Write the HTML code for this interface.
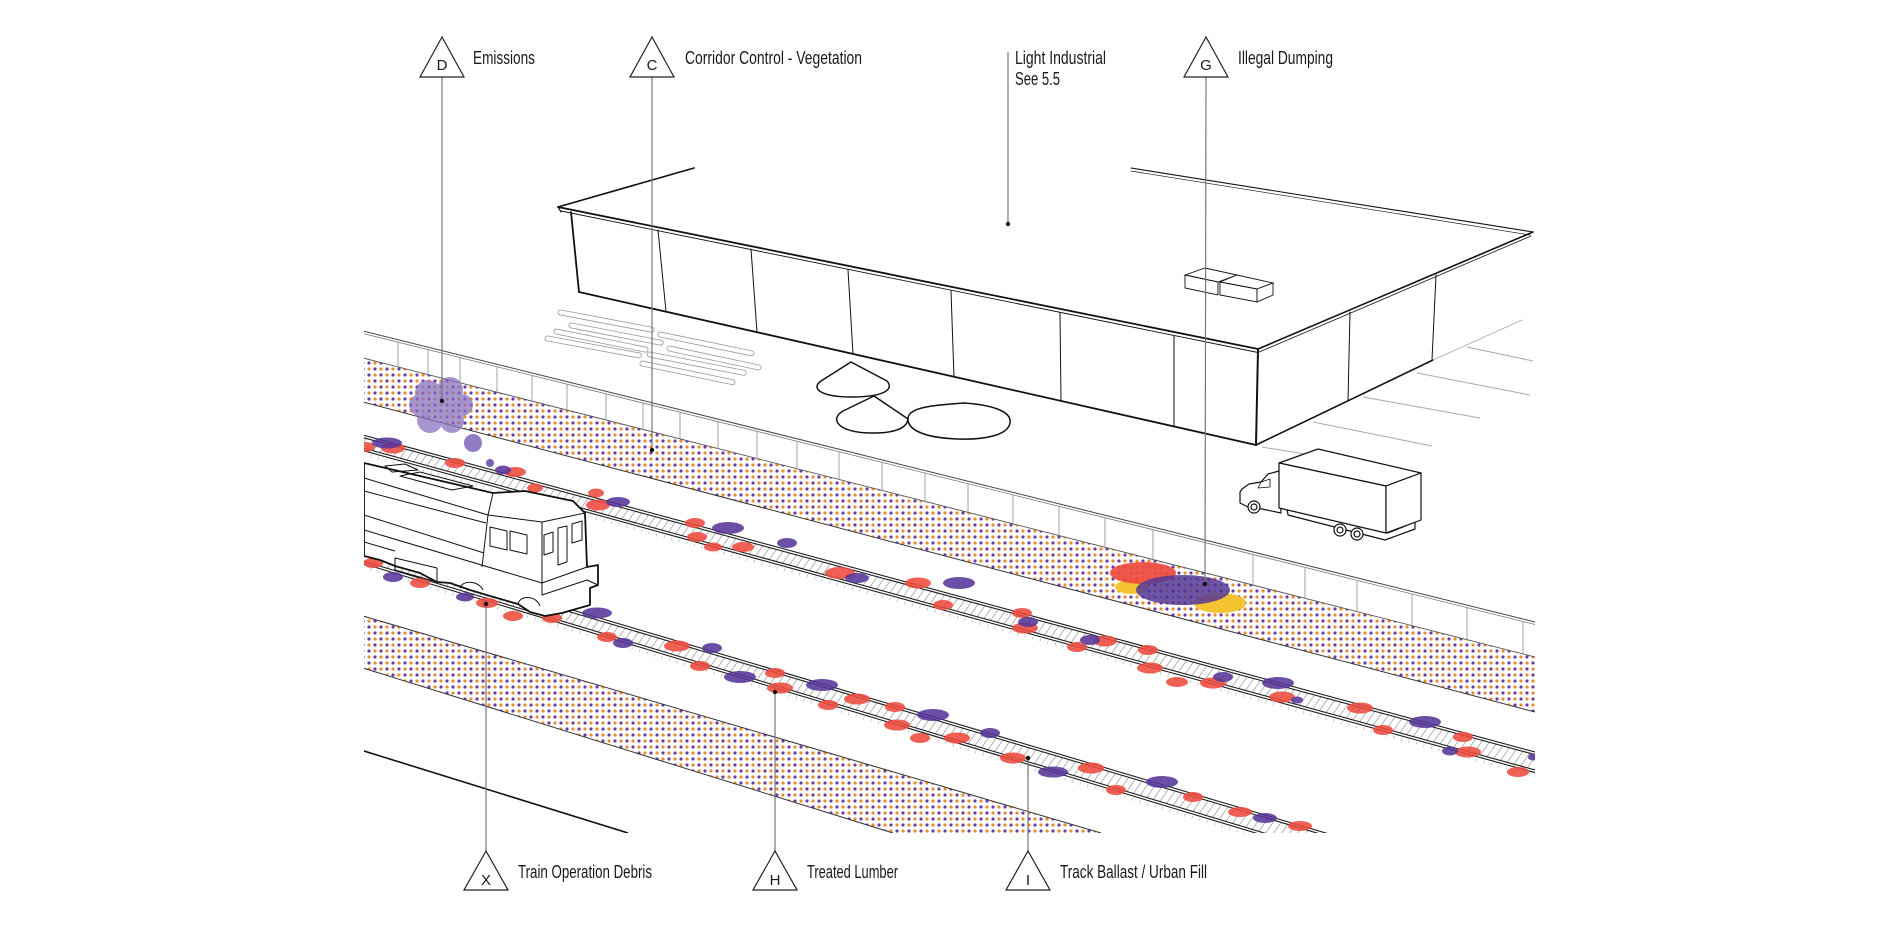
<!DOCTYPE html>
<html><head><meta charset="utf-8"><style>
html,body{margin:0;padding:0;background:#fff;}
svg{display:block;}
text{font-family:"Liberation Sans Narrow","Liberation Sans",sans-serif;fill:#1a1a1a;}
</style></head><body>
<svg width="1900" height="927" viewBox="0 0 1900 927" xmlns="http://www.w3.org/2000/svg">
<defs>
<pattern id="dots" patternUnits="userSpaceOnUse" width="12" height="12">
<circle cx="3" cy="3" r="1.6" fill="#f08c2a"/><circle cx="9" cy="9" r="1.6" fill="#f08c2a"/>
<circle cx="9" cy="3" r="1.6" fill="#6a3d9e"/><circle cx="3" cy="9" r="1.6" fill="#6a3d9e"/>
</pattern>
<pattern id="ties" patternUnits="userSpaceOnUse" width="8" height="40" patternTransform="skewX(-35)">
<line x1="1" y1="0" x2="1" y2="40" stroke="#9a9a9a" stroke-width="0.9"/>
</pattern>
<clipPath id="clip"><rect x="364" y="0" width="1171" height="833"/></clipPath>
</defs>
<rect width="1900" height="927" fill="#fff"/>

<g fill="none" stroke="#111" stroke-linecap="round">
<line x1="558" y1="207" x2="694" y2="168" stroke-width="1.6"/>
<line x1="1131" y1="168" x2="1533" y2="232" stroke-width="1.1"/>
<line x1="1131" y1="171" x2="1530" y2="235" stroke-width="0.7"/>
<line x1="558" y1="207" x2="1258" y2="349" stroke-width="1.8"/>
<line x1="561" y1="211" x2="1258" y2="352.5" stroke-width="0.9"/>
<line x1="1258" y1="349" x2="1533" y2="232" stroke-width="1.6"/>
<line x1="1258" y1="352.5" x2="1531" y2="236" stroke-width="0.8"/>
<line x1="558" y1="207" x2="561" y2="212" stroke-width="1.2"/>
<line x1="571" y1="212" x2="579" y2="292" stroke-width="1.8"/>
<line x1="579" y1="292" x2="1256" y2="445" stroke-width="1.8"/>
<line x1="1258" y1="350" x2="1256" y2="445" stroke-width="2"/>
<line x1="1256" y1="445" x2="1433" y2="360" stroke-width="1.6"/>
<line x1="1433" y1="360" x2="1522" y2="320" stroke="#aaa" stroke-width="0.9"/>
<path stroke-width="1" d="M658,230L666,311.5M751,249L757,332M848,270L853,354M951,291L954,377M1060,313L1061,401M1174,336L1174,426.5M1350,312L1348,401M1436,275L1432,360"/>
<g stroke-width="0.9" fill="#fff">
<polygon points="1185,275 1205,268 1237,275 1218,282"/>
<polygon points="1185,275 1218,282 1218,295 1185,288"/>
<polygon points="1220,282 1237,275 1273,283 1257,289"/>
<polygon points="1220,282 1257,289 1257,302 1220,295"/>
<polygon points="1257,289 1273,283 1273,295 1257,302"/>
</g>
</g>

<path stroke="#aaa" stroke-width="1" fill="none" d="M1467,347L1533,361M1417,373L1530,395M1363,397L1480,418M1313,422L1432,446M1262,447L1305,454"/>

<g stroke="#999" stroke-width="0.8" fill="#fff">
<rect x="0" y="-2.5" width="98" height="5" rx="2.5" transform="translate(558,312) rotate(10.7)"/>
<rect x="0" y="-2.5" width="96" height="5" rx="2.5" transform="translate(569,325) rotate(10.9)"/>
<rect x="0" y="-2.5" width="96" height="5" rx="2.5" transform="translate(554,331) rotate(11.5)"/>
<rect x="0" y="-2.5" width="98" height="5" rx="2.5" transform="translate(545,338) rotate(10.5)"/>
<rect x="0" y="-2.5" width="98" height="5" rx="2.5" transform="translate(658,334) rotate(11.7)"/>
<rect x="0" y="-2.5" width="96" height="5" rx="2.5" transform="translate(667,348) rotate(12)"/>
<rect x="0" y="-2.5" width="101" height="5" rx="2.5" transform="translate(647,354) rotate(11)"/>
<rect x="0" y="-2.5" width="97" height="5" rx="2.5" transform="translate(640,363) rotate(11.7)"/>
</g>

<g fill="none" stroke="#111" stroke-width="1.5" stroke-linejoin="round">
<path d="M851,362 L821,381 C810,389 822,397 852,397 C882,397 895,390 887,381 Z"/>
<path d="M874,396 L843,411 C829,419 838,433 872,433 C896,433 907,428 908,419 Z"/>
<path d="M908,418 C909,407 935,405 964,403 C994,405 1012,412 1010,423 C1008,435 985,440 958,439 C930,438 907,432 908,418 Z"/>
</g>

<g stroke="#111" stroke-width="1.2" fill="#fff" stroke-linejoin="round">
<polygon points="1287,508 1288,515 1385,540 1415,529 1415,522 1388,533"/>
<path d="M1279,471 L1268,474 L1261,482 L1249,484 L1242,489 L1240,492 L1240,503 L1248,507 L1262,509 L1281,513 Z"/>
<path d="M1261,482 L1270,479 L1270,487 L1258,488 Z" stroke-width="0.8"/>
<polygon points="1279,463 1318,449 1421,473 1386,486"/>
<polygon points="1279,463 1386,486 1386,533 1279,508"/>
<polygon points="1386,486 1421,473 1421,520 1386,533"/>
<circle cx="1254" cy="507" r="6"/><circle cx="1254" cy="507" r="3"/>
<circle cx="1340" cy="530" r="6"/><circle cx="1340" cy="530" r="3"/>
<circle cx="1357" cy="534" r="6"/><circle cx="1357" cy="534" r="3"/>
</g>

<g clip-path="url(#clip)">
<polygon points="363,358 1535,657 1535,712 363,402" fill="url(#dots)"/>
<line x1="363" y1="358" x2="1535" y2="657" stroke="#555" stroke-width="0.9"/>
<line x1="363" y1="402" x2="1535" y2="712" stroke="#333" stroke-width="1"/>
<line x1="363" y1="331" x2="1535" y2="622" stroke="#444" stroke-width="1"/>
<line x1="363" y1="333.5" x2="1535" y2="624.5" stroke="#777" stroke-width="0.8"/>
<path stroke="#999" stroke-width="0.9" d="M398,342V367M428,350V374.6M460,358V382.7M497,367V392M532,376V401M567,384.5V410M606,394V420M643,403.5V429.4M680,412.7V438.9M718,422V448.6M757,432V458.5M797,442V468.7M839,452V479.4M882,463V490.4M925,473.5V501.4M968,484V512.3M1013,495V523.8M1059,507V535.5M1105,518V547.3M1153,530V559.5M1253,555V585M1305,568V598.3M1357,581V611.6M1412,594.5V625.6M1467,608V639.6M1523,622V653.9"/>
<polygon points="363,616 1101,833 893,833 363,668" fill="url(#dots)"/>
<line x1="363" y1="616" x2="1101" y2="833" stroke="#333" stroke-width="1"/>
<line x1="363" y1="668" x2="893" y2="833" stroke="#333" stroke-width="1"/>
<line x1="364" y1="751" x2="628" y2="833" stroke="#111" stroke-width="1.6"/>

<polygon points="363,438 1535,755 1535,770 363,448" fill="url(#ties)"/>
<path stroke="#1e1e1e" stroke-width="1.1" d="M363,435L1535,752M363,437.6L1535,754.6M363,448L1535,770M363,450.6L1535,772.6"/>
<line x1="363" y1="454" x2="1535" y2="776" stroke="#bbb" stroke-width="3" stroke-dasharray="0.8 7"/>
<polygon points="363,551 1400,858 1400,874 363,561" fill="url(#ties)"/>
<path stroke="#1e1e1e" stroke-width="1.1" d="M363,548L1400,855M363,550.6L1400,857.6M363,561L1400,874M363,563.6L1400,876.6"/>
<line x1="363" y1="567" x2="1400" y2="880" stroke="#bbb" stroke-width="3" stroke-dasharray="0.8 7"/>

<g fill="#ee4a3c" fill-opacity="0.88">
<ellipse cx="365" cy="447" rx="10" ry="5"/>
<ellipse cx="393" cy="448" rx="12" ry="5.5"/>
<ellipse cx="455" cy="463" rx="10" ry="5"/>
<ellipse cx="515" cy="472" rx="11" ry="5"/>
<ellipse cx="535" cy="488" rx="8" ry="4.5"/>
<ellipse cx="596" cy="493" rx="8" ry="4.5"/>
<ellipse cx="598" cy="505" rx="12" ry="5.5"/>
<ellipse cx="695" cy="523" rx="10" ry="5"/>
<ellipse cx="697" cy="537" rx="10" ry="5"/>
<ellipse cx="713" cy="547" rx="9" ry="4.5"/>
<ellipse cx="743" cy="547" rx="11" ry="5"/>
<ellipse cx="840" cy="573" rx="15" ry="6"/>
<ellipse cx="918" cy="583" rx="13" ry="5.5"/>
<ellipse cx="943" cy="605" rx="10" ry="5"/>
<ellipse cx="1022" cy="613" rx="10" ry="5"/>
<ellipse cx="1025" cy="628" rx="13" ry="5.5"/>
<ellipse cx="1077" cy="647" rx="10" ry="5"/>
<ellipse cx="1105" cy="641" rx="12" ry="5.5"/>
<ellipse cx="1148" cy="650" rx="10" ry="5"/>
<ellipse cx="1150" cy="668" rx="13" ry="5.5"/>
<ellipse cx="1177" cy="682" rx="11" ry="5"/>
<ellipse cx="1213" cy="683" rx="13" ry="5.5"/>
<ellipse cx="1282" cy="697" rx="13" ry="5.5"/>
<ellipse cx="1360" cy="708" rx="13" ry="5.5"/>
<ellipse cx="1383" cy="730" rx="10" ry="5"/>
<ellipse cx="1463" cy="737" rx="10" ry="5"/>
<ellipse cx="1468" cy="752" rx="13" ry="5.5"/>
<ellipse cx="1518" cy="772" rx="11" ry="5"/>
<ellipse cx="373" cy="563" rx="10" ry="5"/>
<ellipse cx="420" cy="583" rx="10" ry="5"/>
<ellipse cx="453" cy="579" rx="9" ry="4.5"/>
<ellipse cx="487" cy="603" rx="11" ry="5"/>
<ellipse cx="513" cy="616" rx="10" ry="5"/>
<ellipse cx="552" cy="618" rx="10" ry="5"/>
<ellipse cx="607" cy="637" rx="10" ry="5"/>
<ellipse cx="677" cy="646" rx="13" ry="5.5"/>
<ellipse cx="700" cy="666" rx="10" ry="5"/>
<ellipse cx="775" cy="673" rx="10" ry="5"/>
<ellipse cx="780" cy="688" rx="13" ry="5.5"/>
<ellipse cx="828" cy="705" rx="10" ry="5"/>
<ellipse cx="857" cy="699" rx="13" ry="5.5"/>
<ellipse cx="895" cy="707" rx="10" ry="5"/>
<ellipse cx="897" cy="725" rx="13" ry="5.5"/>
<ellipse cx="920" cy="738" rx="10" ry="5"/>
<ellipse cx="957" cy="738" rx="13" ry="5.5"/>
<ellipse cx="1013" cy="758" rx="13" ry="5.5"/>
<ellipse cx="1091" cy="768" rx="13" ry="5.5"/>
<ellipse cx="1116" cy="790" rx="10" ry="5"/>
<ellipse cx="1193" cy="797" rx="10" ry="5"/>
<ellipse cx="1240" cy="812" rx="12" ry="5"/>
<ellipse cx="1300" cy="826" rx="12" ry="5"/>
</g>
<g fill="#57379a" fill-opacity="0.88">
<ellipse cx="387" cy="443" rx="15" ry="5.5"/>
<ellipse cx="503" cy="470" rx="8" ry="4.5"/>
<ellipse cx="618" cy="502" rx="12" ry="5"/>
<ellipse cx="728" cy="528" rx="16" ry="6"/>
<ellipse cx="787" cy="543" rx="10" ry="5"/>
<ellipse cx="857" cy="578" rx="12" ry="5"/>
<ellipse cx="959" cy="583" rx="16" ry="6"/>
<ellipse cx="1028" cy="622" rx="10" ry="5"/>
<ellipse cx="1090" cy="640" rx="10" ry="5"/>
<ellipse cx="1223" cy="677" rx="10" ry="5"/>
<ellipse cx="1278" cy="683" rx="16" ry="6"/>
<ellipse cx="1297" cy="700" rx="6" ry="3.5"/>
<ellipse cx="1425" cy="722" rx="16" ry="6"/>
<ellipse cx="1450" cy="751" rx="8" ry="4.5"/>
<ellipse cx="1533" cy="757" rx="5" ry="3.5"/>
<ellipse cx="393" cy="577" rx="10" ry="5"/>
<ellipse cx="465" cy="597" rx="9" ry="4.5"/>
<ellipse cx="597" cy="613" rx="15" ry="5.5"/>
<ellipse cx="623" cy="643" rx="10" ry="5"/>
<ellipse cx="712" cy="648" rx="10" ry="5"/>
<ellipse cx="740" cy="677" rx="16" ry="6"/>
<ellipse cx="822" cy="685" rx="16" ry="6"/>
<ellipse cx="933" cy="715" rx="16" ry="6"/>
<ellipse cx="990" cy="733" rx="10" ry="5"/>
<ellipse cx="1053" cy="772" rx="15" ry="5.5"/>
<ellipse cx="1162" cy="782" rx="16" ry="6"/>
<ellipse cx="1265" cy="818" rx="12" ry="5"/>
</g>

<g stroke="#111" stroke-linejoin="round" fill="#fff">
<polygon stroke-width="1.8" points="364,463 493,493 525,491 573,501 585,513 587,567 598,565 598,585 590,588 590,605 562,613 545,616 530,612 518,604 490,596 470,590 450,583 437,582 420,573 395,566 380,560 364,556"/>
<g fill="none" stroke-width="1">
<polygon points="385,466 405,464 418,470 392,472"/>
<polygon points="400,476 420,472 473,486 452,490"/>
<path d="M364,478L488,515M364,491L486,523M364,515L484,553M364,530L542,583M364,542L395,551M488,515L482,567M542,522L542,583M542,583L587,567"/>
<polyline points="488,515 493,493 525,491"/>
<polyline points="488,515 542,522 585,513"/>
<polygon points="490,527 507,531 507,550 490,546"/>
<polygon points="510,531 527,535 527,554 510,550"/>
<polygon points="544,535 553,532 553,552 544,555"/>
<polygon points="558,528 567,526 567,562 558,565"/>
<polygon points="572,524 582,521 582,540 572,543"/>
<polyline points="542,583 542,595 587,580 598,585"/>
<polygon points="395,558 437,568 437,582 395,570"/>
<path d="M460,588 C462,580 478,580 483,590"/>
<path d="M518,604 C520,595 536,595 540,606"/>
</g>
</g>

<g fill="#8a72bf" opacity="0.75">
<circle cx="440" cy="405" r="19"/>
<circle cx="428" cy="393" r="13"/>
<circle cx="450" cy="390" r="13"/>
<circle cx="462" cy="405" r="11"/>
<circle cx="452" cy="421" r="12"/>
<circle cx="430" cy="420" r="13"/>
<circle cx="420" cy="405" r="11"/>
</g>
<circle cx="473" cy="443" r="9" fill="#7d66b8" fill-opacity="0.85"/>
<circle cx="490" cy="463" r="4" fill="#6a50aa" fill-opacity="0.9"/>

<ellipse cx="1132" cy="587" rx="17" ry="7" fill="#f3c330"/>
<ellipse cx="1220" cy="603" rx="26" ry="10" fill="#f3c330"/>
<ellipse cx="1143" cy="573" rx="33" ry="11" fill="#ee4b3e" fill-opacity="0.92"/>
<ellipse cx="1183" cy="590" rx="47" ry="15" fill="#553897" fill-opacity="0.85"/>
</g>

<path stroke="#777" stroke-width="1.2" fill="none" d="M442,77V401M652,77V450M1008,52V224M1206,77L1205,584M486,851V604M775,851V692M1028,851V758"/>
<g fill="#111">
<circle cx="442" cy="401" r="2.2"/><circle cx="652" cy="450" r="2.2"/>
<circle cx="1008" cy="224" r="2.2"/><circle cx="1205" cy="584" r="2.2"/>
<circle cx="486" cy="604" r="2.2"/><circle cx="775" cy="692" r="2.2"/>
<circle cx="1028" cy="758" r="2.2"/>
</g>

<g fill="#fff" stroke="#222" stroke-width="1.2">
<polygon points="442,37 420,77 464,77"/>
<polygon points="652,37 630,77 674,77"/>
<polygon points="1206,37 1184,77 1228,77"/>
<polygon points="486,851 464,890 508,890"/>
<polygon points="775,851 753,890 797,890"/>
<polygon points="1028,851 1006,890 1050,890"/>
</g>
<g font-size="15" text-anchor="middle">
<text x="442" y="70">D</text>
<text x="652" y="70">C</text>
<text x="1206" y="70">G</text>
<text x="486" y="885">X</text>
<text x="775" y="885">H</text>
<text x="1028" y="885">I</text>
</g>

<g font-size="18.5">
<text x="473" y="64" textLength="62" lengthAdjust="spacingAndGlyphs">Emissions</text>
<text x="685" y="64" textLength="177" lengthAdjust="spacingAndGlyphs">Corridor Control - Vegetation</text>
<text x="1015" y="64" textLength="91" lengthAdjust="spacingAndGlyphs">Light Industrial</text>
<text x="1015" y="85" textLength="45" lengthAdjust="spacingAndGlyphs">See 5.5</text>
<text x="1238" y="64" textLength="95" lengthAdjust="spacingAndGlyphs">Illegal Dumping</text>
<text x="518" y="878" textLength="134" lengthAdjust="spacingAndGlyphs">Train Operation Debris</text>
<text x="807" y="878" textLength="91" lengthAdjust="spacingAndGlyphs">Treated Lumber</text>
<text x="1060" y="878" textLength="147" lengthAdjust="spacingAndGlyphs">Track Ballast / Urban Fill</text>
</g>
</svg>
</body></html>
